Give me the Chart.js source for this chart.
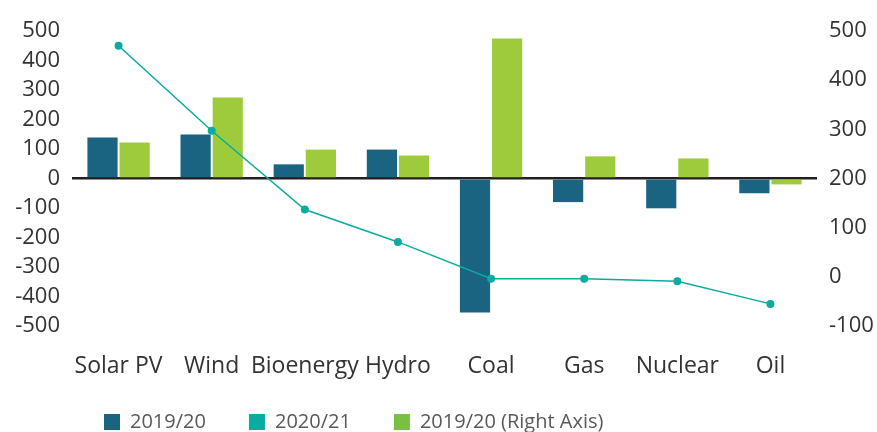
<!DOCTYPE html>
<html>
<head>
<meta charset="utf-8">
<script src="https://cdn.jsdelivr.net/npm/chart.js@4.4.1/dist/chart.umd.min.js"></script>
<style>
html,body{margin:0;padding:0;background:#fff;}
#wrap{width:877px;height:432px;position:relative;}
</style>
</head>
<body>
<div id="wrap"><canvas id="c" width="877" height="432"></canvas></div>
<script>
const categories = ['Solar PV','Wind','Bioenergy','Hydro','Coal','Gas','Nuclear','Oil'];
const bars2019 = [139, 149, 48, 98, -454, -80, -101, -50];
const line2020 = [470, 297, 137, 71, -4, -4, -9, -55];
const barsRightAxis = [122, 275, 98, 78, 475, 75, 68, -20];
const leftTicks = {min: -500, max: 500, step: 100};
const rightTicks = {min: -100, max: 500, step: 100};
const seriesNames = ['2019/20', '2020/21', '2019/20 (Right Axis)'];

const DARK = '#1a6381', TEAL = '#0aaba0', GREEN = '#9ecb3b', LEGEND_GREEN = '#77c043';
const FONT = "'Open Sans', sans-serif";

const layoutTweaks = {
  id: 'layoutTweaks',
  afterLayout(chart) {
    const lg = chart.legend;
    lg.left += 61; lg.right += 61;
    lg.top += 10; lg.bottom += 10;
    chart.scales.x.bottom = chart.height;
  }
};

new Chart(document.getElementById('c'), {
  type: 'bar',
  data: {
    labels: categories,
    datasets: [
      {label: seriesNames[0], data: bars2019, backgroundColor: DARK, yAxisID: 'y',
       categoryPercentage: 0.69, barPercentage: 0.94},
      {label: seriesNames[1], type: 'line', data: line2020, yAxisID: 'y1', order: -1,
       borderColor: TEAL, backgroundColor: TEAL, borderWidth: 1.5, pointRadius: 4,
       pointBackgroundColor: TEAL, pointBorderWidth: 0, tension: 0},
      {label: seriesNames[2], data: barsRightAxis, backgroundColor: GREEN, yAxisID: 'y',
       categoryPercentage: 0.69, barPercentage: 0.94}
    ]
  },
  options: {
    responsive: false,
    animation: false,
    devicePixelRatio: 1,
    layout: {padding: {top: 31, left: 0, right: 0, bottom: 0}},
    plugins: {
      tooltip: {enabled: false},
      legend: {
        position: 'bottom',
        align: 'start',
        labels: {
          boxWidth: 16, boxHeight: 16, padding: 43,
          color: '#595959',
          font: {family: FONT, size: 20},
          sort: (a, b) => a.datasetIndex - b.datasetIndex,
          generateLabels(chart) {
            const items = Chart.defaults.plugins.legend.labels.generateLabels(chart);
            items.forEach(it => {
              it.lineWidth = 0;
              it.strokeStyle = 'rgba(0,0,0,0)';
              if (it.datasetIndex === 2) it.fillStyle = LEGEND_GREEN;
              if (it.datasetIndex === 1) it.fillStyle = TEAL;
            });
            return items;
          }
        }
      }
    },
    scales: {
      x: {
        grid: {display: false},
        border: {display: false},
        ticks: {color: '#333', font: {family: FONT, size: 23}, padding: 19, maxRotation: 0, autoSkip: false},
        afterFit(s) { s.height = 33; }
      },
      y: {
        position: 'left',
        min: leftTicks.min, max: leftTicks.max,
        ticks: {stepSize: leftTicks.step, color: '#333', font: {family: FONT, size: 22}, padding: 12},
        border: {display: false},
        grid: {
          drawTicks: false,
          lineWidth: 2.5,
          color: ctx => (ctx.tick && ctx.tick.value === 0) ? '#231f20' : 'rgba(0,0,0,0)'
        },
        afterFit(s) { s.width = 72; }
      },
      y1: {
        position: 'right',
        min: rightTicks.min, max: rightTicks.max,
        ticks: {stepSize: rightTicks.step, color: '#333', font: {family: FONT, size: 22}, padding: 12},
        border: {display: false},
        grid: {display: false, drawTicks: false},
        afterFit(s) { s.width = 60; }
      }
    }
  },
  plugins: [layoutTweaks]
});
</script>
</body>
</html>
